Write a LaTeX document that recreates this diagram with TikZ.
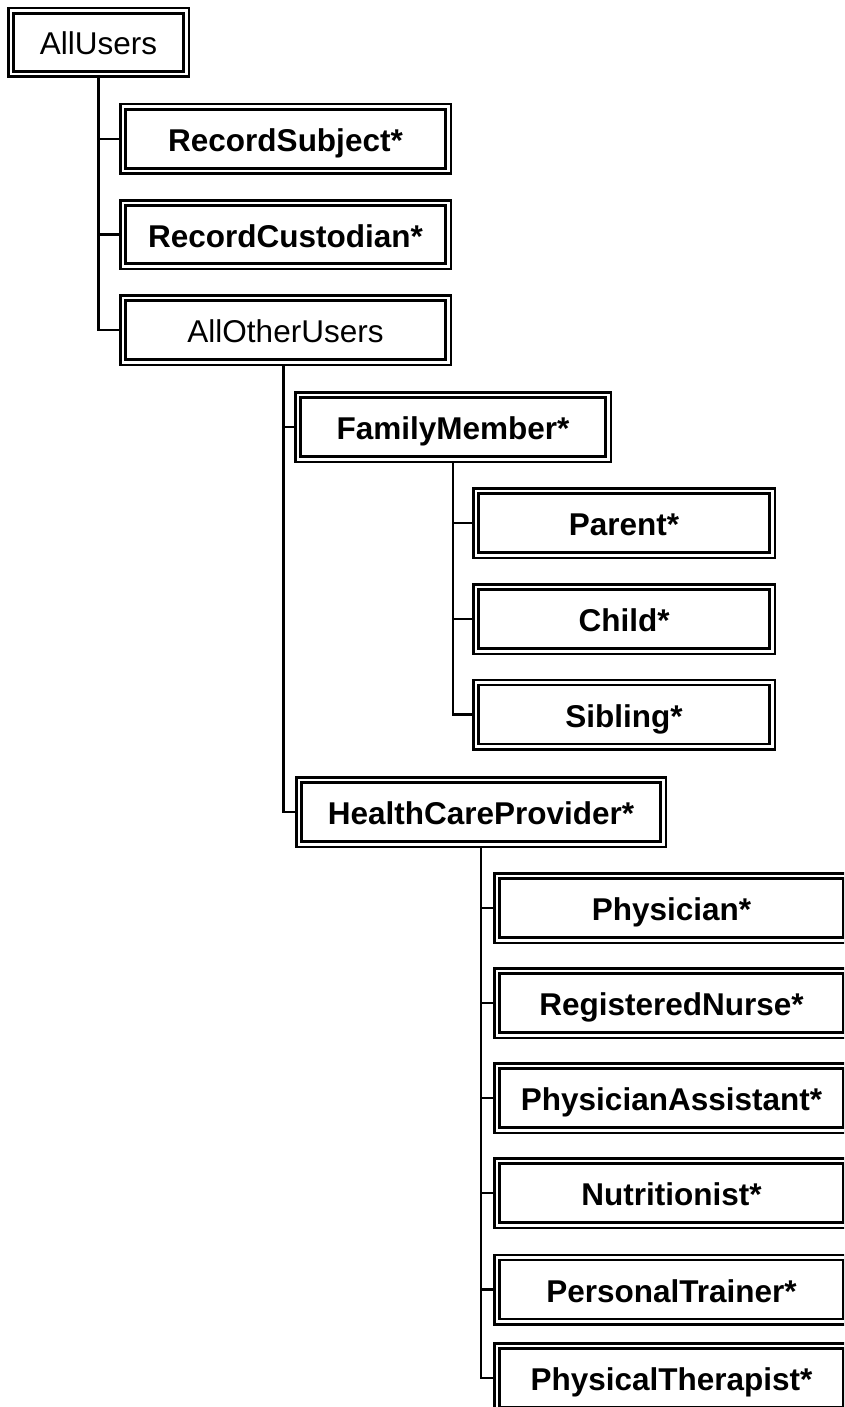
\documentclass[tikz,border=0pt]{standalone}
\usepackage{fontspec}
\setmainfont{Liberation Sans}
\begin{document}
\begin{tikzpicture}[x=1pt,y=-1pt,
  box/.style={draw, double, line width=2.5pt, double distance=2.6pt,
    inner sep=0pt, outer sep=3.8pt, minimum height=64.4pt,
    text height=25pt, text depth=0pt,
    font=\fontsize{31.5}{36}\selectfont\bfseries},
  plainbox/.style={box, font=\fontsize{31.5}{36}\selectfont},
  link/.style={line width=2.2pt}]
\clip (0,0) rectangle (844,1407);
\fill[white] (0,0) rectangle (844,1407);
% nodes
\node[plainbox, minimum width=175.4pt, minimum height=63.4pt] (au) at (98.5,42.5) {AllUsers};
\node[box, minimum width=325.4pt] (rs) at (285.5,139) {RecordSubject*};
\node[box, minimum width=325.4pt, minimum height=63.4pt] (rc) at (285.5,234.5) {RecordCustodian*};
\node[plainbox, minimum width=325.4pt] (aou) at (285.5,330) {AllOtherUsers};
\node[box, minimum width=310.4pt] (fm) at (453,427) {FamilyMember*};
\node[box, minimum width=296.4pt] (pa) at (624,523) {Parent*};
\node[box, minimum width=296.4pt] (ch) at (624,619) {Child*};
\node[box, minimum width=296.4pt] (si) at (624,714.5) {Sibling*};
\node[box, minimum width=364.4pt] (hcp) at (481,812) {HealthCareProvider*};
\node[box, minimum width=349.4pt] (phy) at (671.5,908) {Physician*};
\node[box, minimum width=349.4pt] (rn) at (671.5,1003) {RegisteredNurse*};
\node[box, minimum width=349.4pt] (pas) at (671.5,1098) {PhysicianAssistant*};
\node[box, minimum width=349.4pt] (nu) at (671.5,1193) {Nutritionist*};
\node[box, minimum width=349.4pt] (ptr) at (671.5,1289.5) {PersonalTrainer*};
\node[box, minimum width=349.4pt] (pth) at (671.5,1378) {PhysicalTherapist*};
% connectors
\draw[link] (au.south) |- (rs.west);
\draw[link] (au.south) |- (rc.west);
\draw[link] (au.south) |- (aou.west);
\draw[link] ([xshift=-2pt]aou.south) |- (fm.west);
\draw[link] ([xshift=-2pt]aou.south) |- (hcp.west);
\draw[link] (fm.south) |- (pa.west);
\draw[link] (fm.south) |- (ch.west);
\draw[link] (fm.south) |- (si.west);
\draw[link] (hcp.south) |- (phy.west);
\draw[link] (hcp.south) |- (rn.west);
\draw[link] (hcp.south) |- (pas.west);
\draw[link] (hcp.south) |- (nu.west);
\draw[link] (hcp.south) |- (ptr.west);
\draw[link] (hcp.south) |- (pth.west);
\end{tikzpicture}
\end{document}
